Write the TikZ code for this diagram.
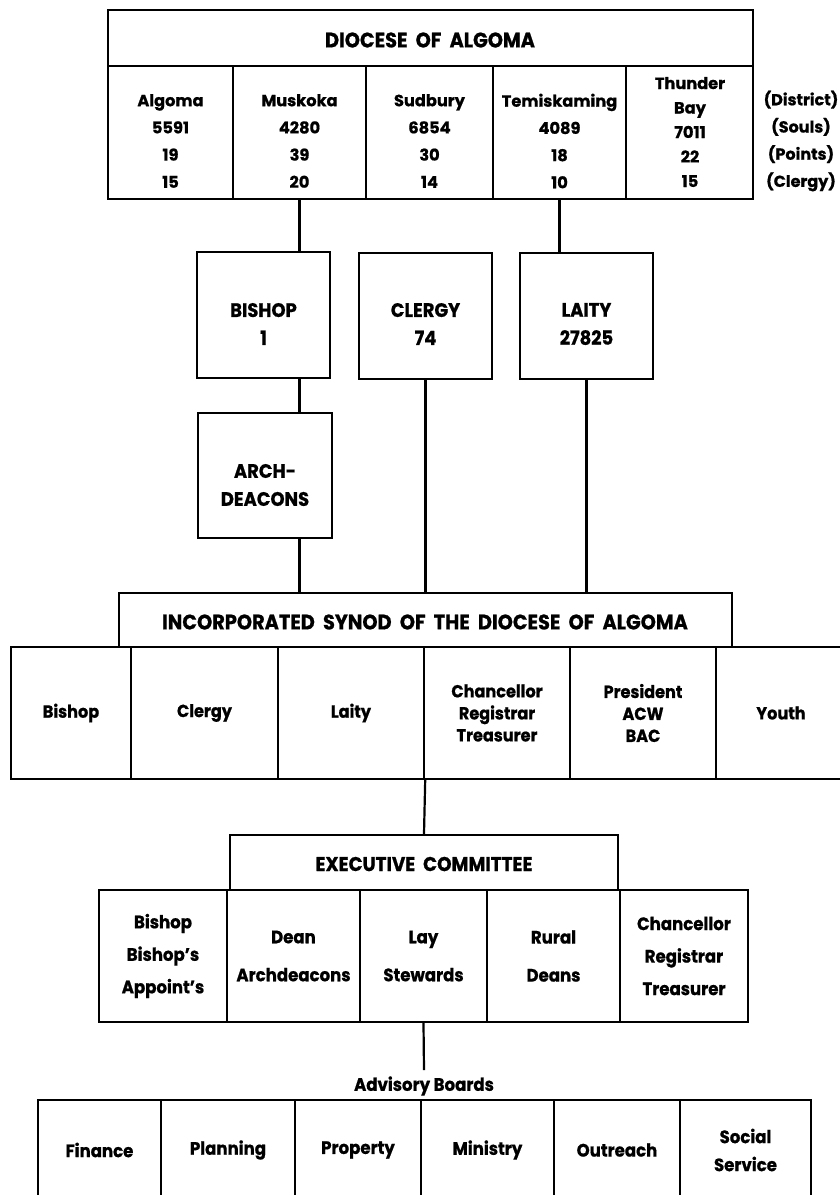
\documentclass[tikz,border=0pt]{standalone}
\usepackage{fontspec}
\setmainfont{Poppins}
\newfontfamily\tf{Poppins}[FakeStretch=0.92, BoldFeatures={FakeBold=0.8}]
\newfontfamily\nf{Poppins}[BoldFeatures={FakeBold=0.8}]
\begin{document}
\begin{tikzpicture}[x=1pt,y=-1pt,
  cell/.style={draw, line width=2.4pt, inner sep=0pt},
  conn/.style={line width=2.2pt},
  txt/.style={inner sep=0pt, align=center, font=\nf\bfseries\fontsize{16.2}{27.2}\selectfont},
  ttl/.style={inner sep=0pt, font=\tf\bfseries\fontsize{21}{24}\selectfont},
  mid/.style={inner sep=0pt, align=center, font=\tf\bfseries\fontsize{19.5}{28}\selectfont},
  syn/.style={align=center, font=\tf\bfseries\fontsize{17.5}{22}\selectfont},
  exe/.style={align=center, font=\tf\bfseries\fontsize{18}{32.5}\selectfont},
  exetwo/.style={align=center, font=\tf\bfseries\fontsize{18}{38}\selectfont},
  adv/.style={align=center, font=\tf\bfseries\fontsize{18}{28}\selectfont},
]
\useasboundingbox[fill=white] (0,0) rectangle (839,1195);

% Diocese
\node[cell, minimum width=645pt, minimum height=56pt] (dio) at (430.5,38) {};
\node[ttl] (diot) at (430,40) {DIOCESE\ \ OF\ \ ALGOMA};
\node[cell, minimum width=125pt, minimum height=133pt] (d1) at (170.5,132.5) {};
\node[cell, minimum width=133pt, minimum height=133pt] (d2) at (299.5,132.5) {};
\node[cell, minimum width=127pt, minimum height=133pt] (d3) at (429.5,132.5) {};
\node[cell, minimum width=133pt, minimum height=133pt] (d4) at (559.5,132.5) {};
\node[cell, minimum width=127pt, minimum height=133pt] (d5) at (689.5,132.5) {};
\node[txt] (t1) at (170.5,141) {Algoma\\5591\\19\\15};
\node[txt] (t2) at (299.5,141) {Muskoka\\4280\\39\\20};
\node[txt] (t3) at (429.5,141) {Sudbury\\6854\\30\\14};
\node[txt] (t4) at (559.5,141) {Temiskaming\\4089\\18\\10};
\node[txt, font=\nf\bfseries\fontsize{16.2}{24.5}\selectfont] (t5) at (690,132) {Thunder\\Bay\\7011\\22\\15};
\node[txt, font=\nf\bfseries\fontsize{16}{27.2}\selectfont] (lab) at (801,141) {(District)\\(Souls)\\(Points)\\(Clergy)};

% Bishop / Clergy / Laity
\node[cell, minimum width=133pt, minimum height=126pt] (bishop) at (263.5,315) {};
\node[mid] at (263.5,324) {BISHOP\\1};
\node[cell, minimum width=133pt, minimum height=126pt] (clergy) at (425.5,316) {};
\node[mid] at (425.5,324) {CLERGY\\74};
\node[cell, minimum width=133pt, minimum height=126pt] (laity) at (586.5,316) {};
\node[mid] at (586.5,324) {LAITY\\27825};
\node[cell, minimum width=134pt, minimum height=125pt] (arch) at (265,475.5) {};
\node[mid] at (265,485) {ARCH-\\DEACONS};

% Synod
\node[cell, minimum width=613pt, minimum height=54pt] (synod) at (425.5,620) {};
\node[ttl] at (425,622) {INCORPORATED\ \ SYNOD\ \ OF\ \ THE\ \ DIOCESE\ \ OF\ \ ALGOMA};
\node[cell, syn, minimum width=120pt, minimum height=132pt] (s1) at (71,713) {Bishop};
\node[cell, syn, minimum width=147pt, minimum height=132pt] (s2) at (204.5,713) {Clergy};
\node[cell, syn, minimum width=146pt, minimum height=132pt] (s3) at (351,713) {Laity};
\node[cell, syn, minimum width=146pt, minimum height=132pt] (s4) at (497,713) {Chancellor\\Registrar\\Treasurer};
\node[cell, syn, minimum width=146pt, minimum height=132pt] (s5) at (643,713) {President\\ACW\\BAC};
\node[cell, syn, minimum width=130pt, minimum height=132pt] (s6) at (781,713) {Youth};

% Executive
\node[cell, minimum width=388pt, minimum height=55pt] (exec) at (424,862.5) {};
\node[ttl, font=\tf\bfseries\fontsize{20}{24}\selectfont] at (424,864) {EXECUTIVE\ \ COMMITTEE};
\node[cell, exe, minimum width=128pt, minimum height=132pt] (e1) at (163,956) {Bishop\\Bishop’s\\Appoint’s};
\node[cell, exetwo, minimum width=133pt, minimum height=132pt] (e2) at (293.5,956) {Dean\\Archdeacons};
\node[cell, exetwo, minimum width=127pt, minimum height=132pt] (e3) at (423.5,956) {Lay\\Stewards};
\node[cell, exetwo, minimum width=133pt, minimum height=132pt] (e4) at (553.5,956) {Rural\\Deans};
\node[cell, exe, minimum width=128pt, minimum height=132pt] (e5) at (684,956) {Chancellor\\Registrar\\Treasurer};

% Advisory boards
\node[adv, inner ysep=6pt] (advb) at (424,1086) {Advisory\ Boards};
\node[cell, adv, minimum width=123pt, minimum height=100pt] (b1) at (99.5,1150) {Finance};
\node[cell, adv, minimum width=134pt, minimum height=100pt] (b2) at (228,1150) {Planning};
\node[cell, adv, minimum width=126pt, minimum height=100pt] (b3) at (358,1150) {Property};
\node[cell, adv, minimum width=133pt, minimum height=100pt] (b4) at (487.5,1150) {Ministry};
\node[cell, adv, minimum width=126pt, minimum height=100pt] (b5) at (617,1150) {Outreach};
\node[cell, adv, minimum width=131pt, minimum height=100pt] (b6) at (745.5,1150) {Social\\Service};

% Connectors
\draw[conn] (d2.south) -- (d2.south |- bishop.north);
\draw[conn] (d4.south) -- (d4.south |- laity.north);
\draw[conn] (bishop.south -| d2.south) -- (arch.north -| d2.south);
\draw[conn] (arch.south -| d2.south) -- (synod.north -| d2.south);
\draw[conn] (clergy.south) -- (clergy.south |- synod.north);
\draw[conn] (laity.south) -- (laity.south |- synod.north);
\draw[conn] (s3.south east) -- (exec.north);
\draw[conn] (e3.south) -- (advb.north);
\end{tikzpicture}
\end{document}
